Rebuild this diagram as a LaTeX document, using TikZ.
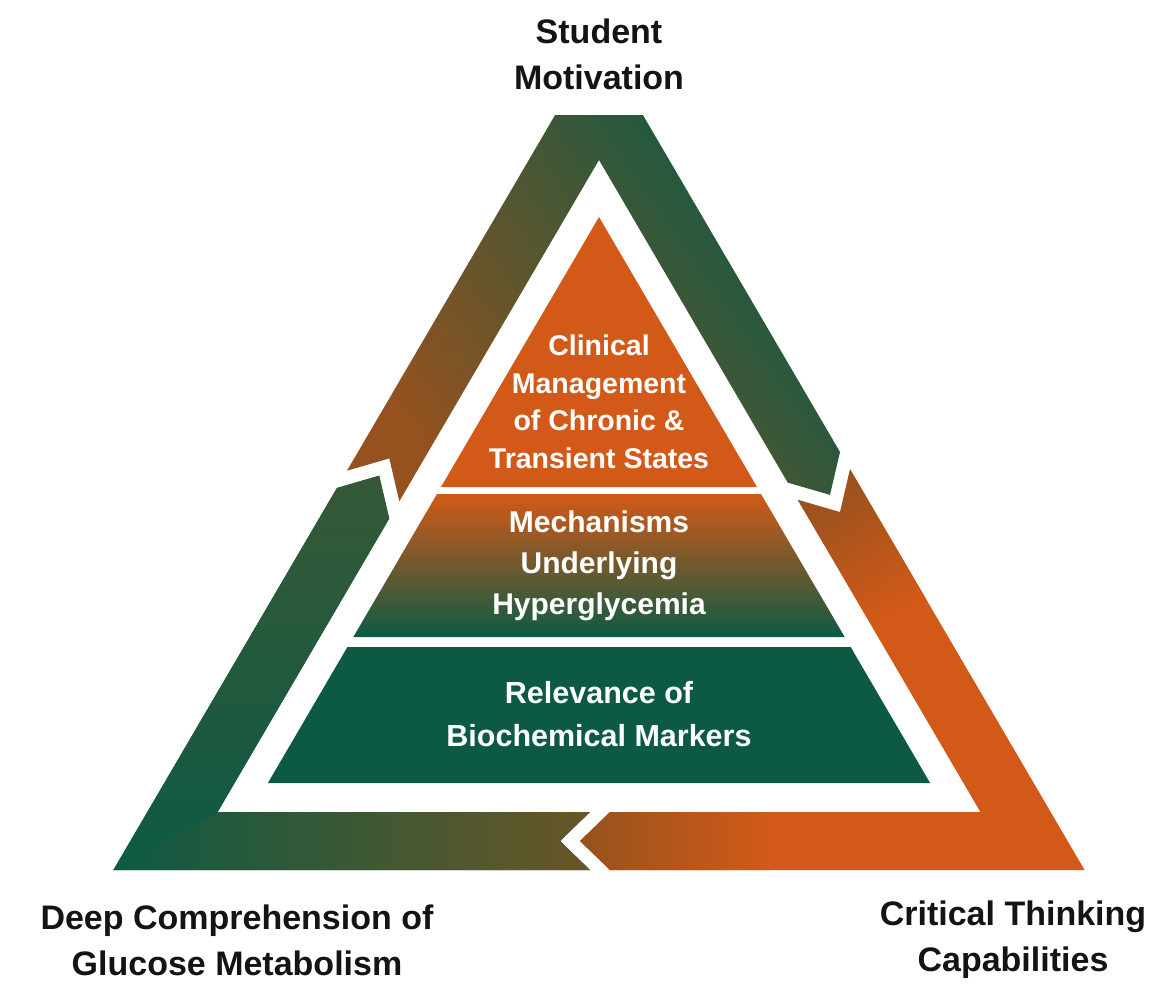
\documentclass[tikz,border=0pt]{standalone}
\usepackage{fontspec}
\setmainfont{Liberation Sans}
\definecolor{deepgreen}{RGB}{13,90,68}
\definecolor{burntorange}{RGB}{211,89,24}
\definecolor{rust}{RGB}{150,82,30}
\definecolor{olive}{RGB}{105,86,38}

\begin{document}
\begin{tikzpicture}[x=1pt,y=-1pt,
  cornertext/.style={font=\bfseries\fontsize{34}{46}\selectfont,align=center,text=black!92},
  layertext/.style={font=\bfseries\fontsize{28.5}{37.5}\selectfont,align=center,text=white}]
\fill [white] (0,0) rectangle (1172,986);
\useasboundingbox (0,0) rectangle (1172,986);

\shade [top color=deepgreen, middle color=deepgreen!80!olive, bottom color=rust, shading angle=-55]
  (347.0,470.7) -- (555.1,115) -- (642.9,115) -- (840.0,452) -- (830.0,494.9)
  -- (787.7,482.6) -- (599,160) -- (399.3,501.3) -- (389.3,458.4) -- cycle;

\fill [burntorange] (850.1,469.3) -- (1084.6,870) -- (610,870) -- (580,841) -- (610,812)
  -- (980.4,812) -- (797.8,499.9) -- (840.1,512.2) -- cycle;
\shade [top color=rust, bottom color=burntorange, shading angle=30]
  (850.1,469.3) -- (926,599) -- (874,629) -- (797.8,499.9) -- (840.1,512.2) -- cycle;
\shade [left color=rust, right color=burntorange]
  (610,870) -- (580,841) -- (610,812) -- (770,812) -- (770,870) -- cycle;

\fill [deepgreen] (590,870) -- (113.4,870) -- (336.9,488) -- (379.2,475.7) -- (389.2,518.6)
  -- (217.6,812) -- (590,812) -- (560,841) -- cycle;
\shade [top color=deepgreen!55!olive, middle color=deepgreen, bottom color=deepgreen]
  (113.4,870) -- (336.9,488) -- (379.2,475.7) -- (389.2,518.6) -- (217.6,812) -- cycle;
\shade [left color=deepgreen, middle color=deepgreen, right color=olive]
  (113.4,870) -- (590,870) -- (560,841) -- (590,812) -- (217.6,812) -- cycle;

\fill [burntorange] (599,217) -- (757,487) -- (441,487) -- cycle;
\shade [top color=burntorange, bottom color=deepgreen] (437,494) -- (761,494) -- (844.7,637) -- (353.3,637) -- cycle;
\fill [deepgreen] (347.4,647) -- (850.6,647) -- (930.1,783) -- (267.9,783) -- cycle;

\node (motivation) [cornertext] at (599,54) {Student\\Motivation};
\node (comprehension) [cornertext] at (237,940) {Deep Comprehension of\\Glucose Metabolism};
\node (thinking) [cornertext] at (1013,940) {Critical Thinking\\Capabilities};
\node (clinical) [layertext] at (599,402) {Clinical\\Management\\of Chronic \&\\Transient States};
\node (mechanisms) [layertext, font=\bfseries\fontsize{30}{41}\selectfont] at (599,566) {Mechanisms\\Underlying\\Hyperglycemia};
\node (relevance) [layertext, font=\bfseries\fontsize{30.5}{43}\selectfont] at (599,714) {Relevance of\\Biochemical Markers};
\end{tikzpicture}
\end{document}
